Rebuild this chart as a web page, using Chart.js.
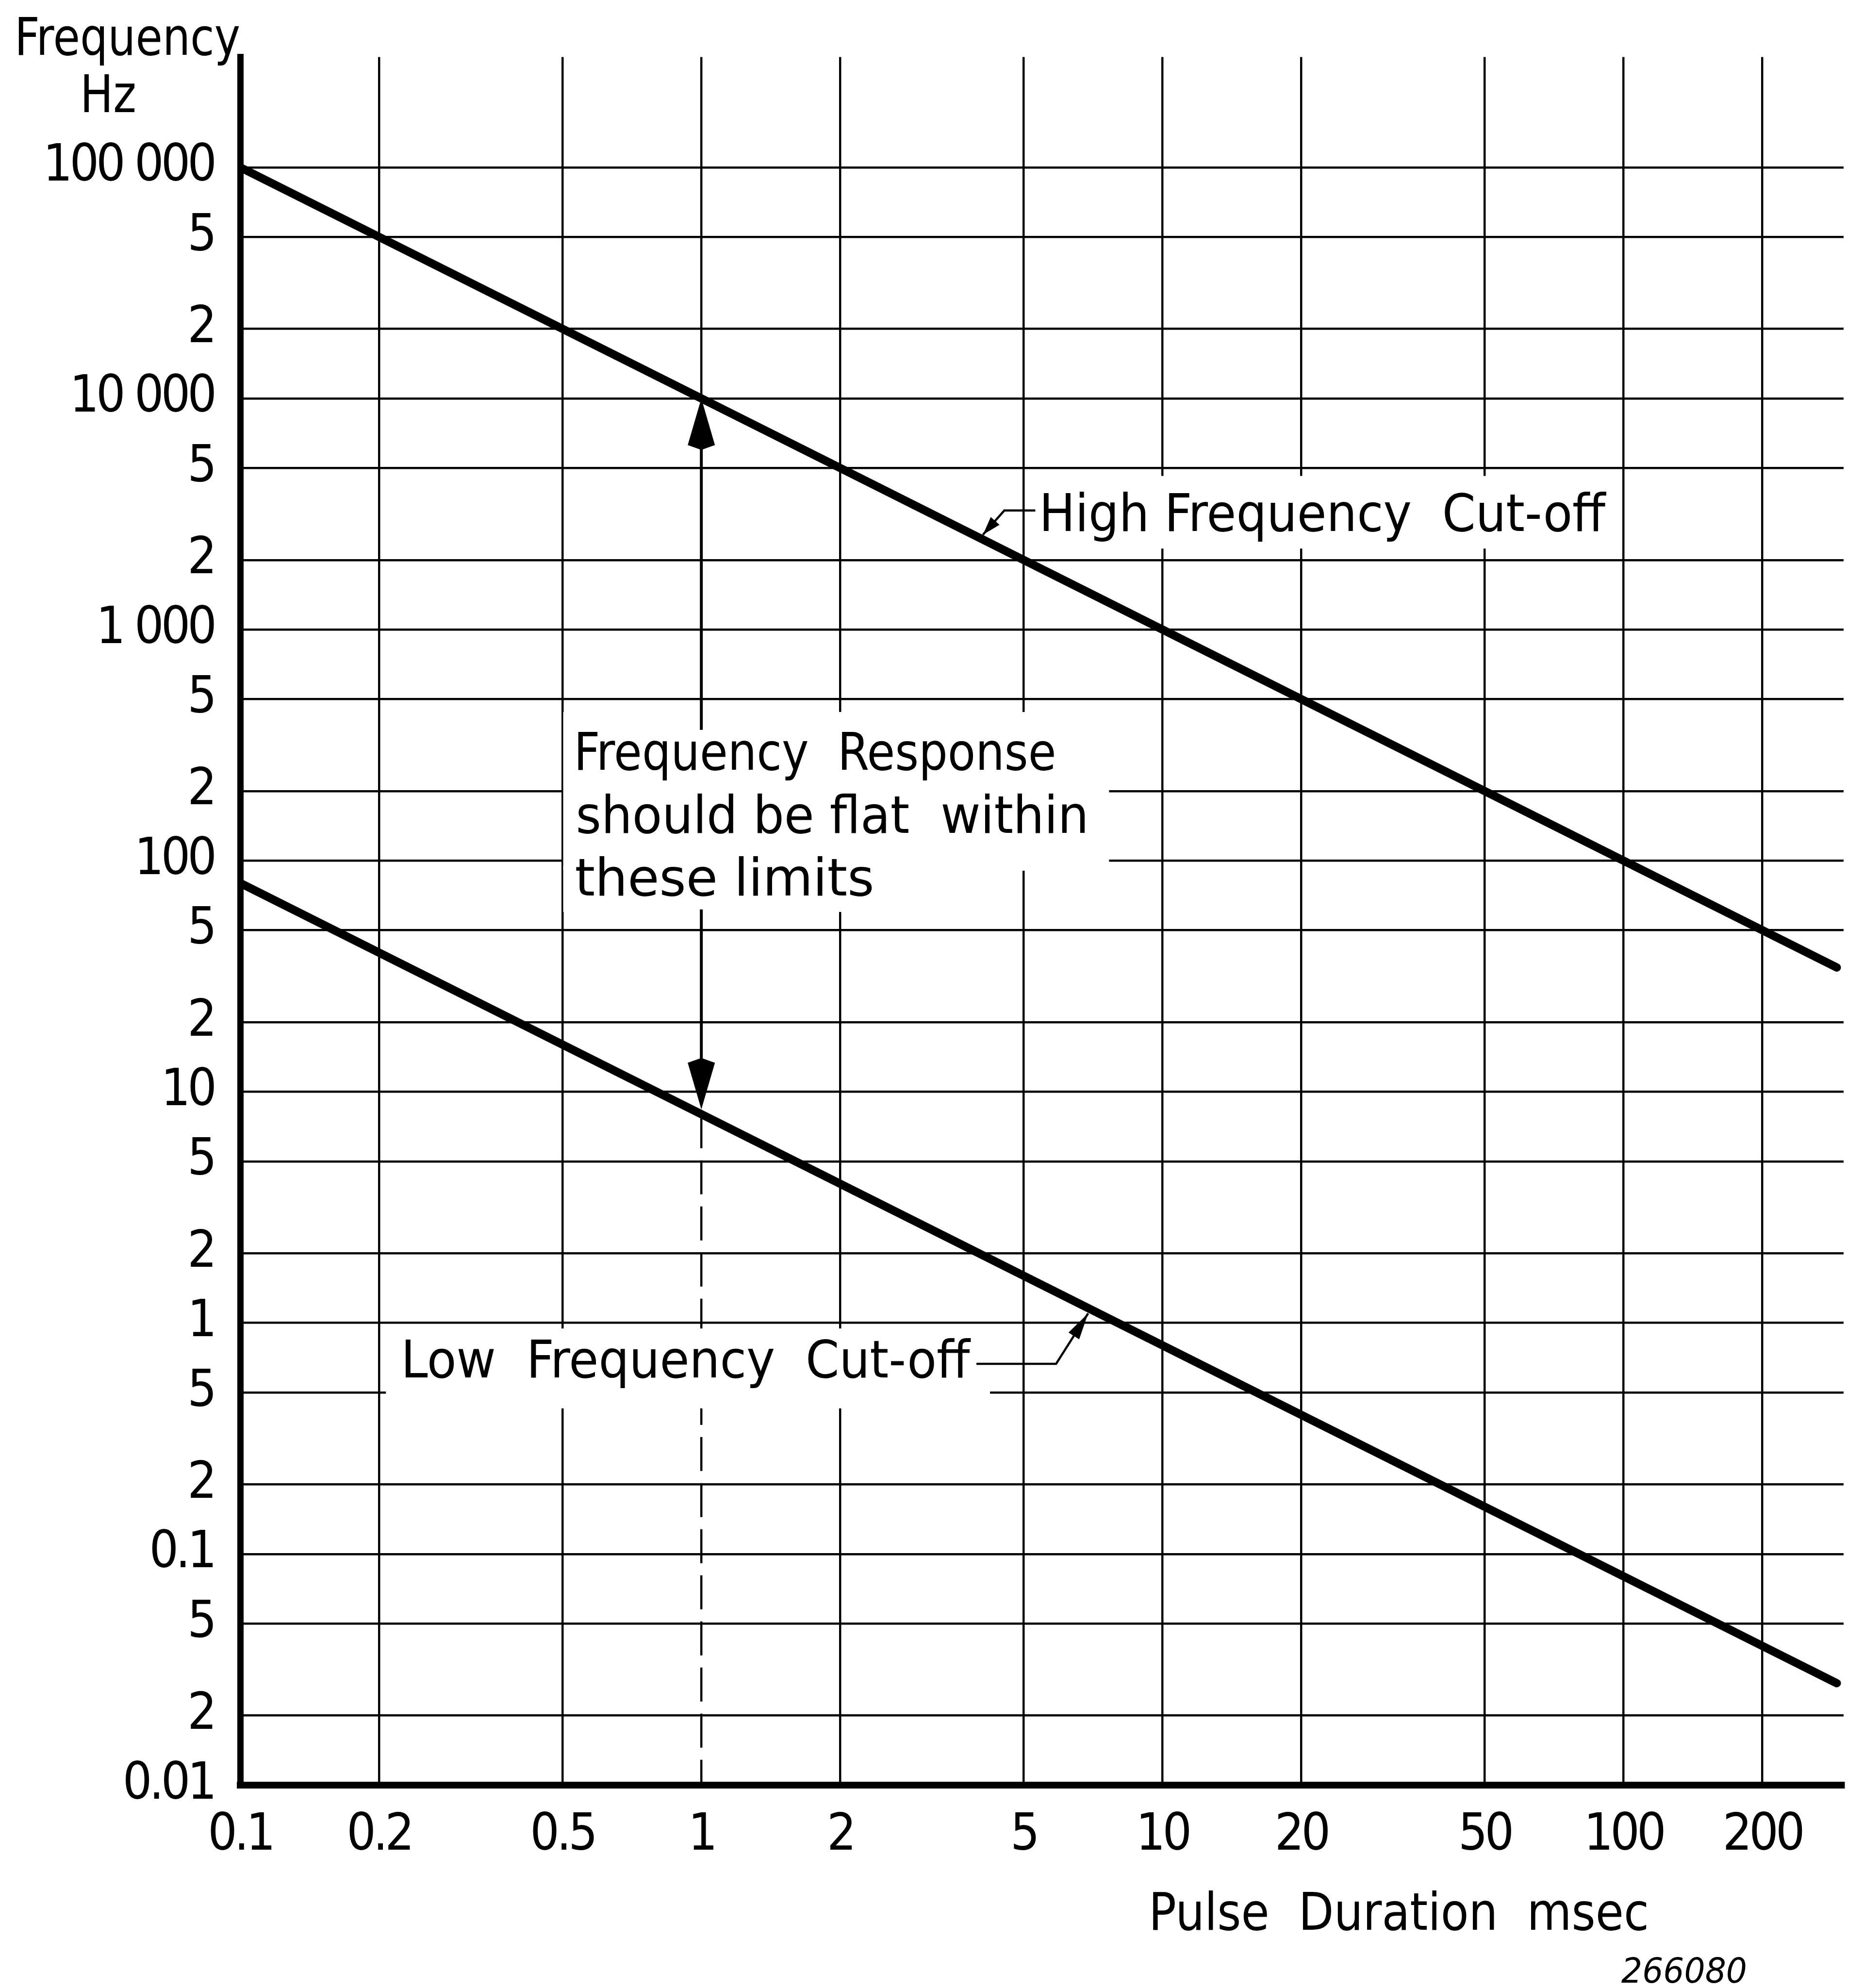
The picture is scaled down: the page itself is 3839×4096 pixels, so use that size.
<!DOCTYPE html>
<html><head><meta charset="utf-8">
<script src="https://cdn.jsdelivr.net/npm/chart.js@4.4.1/dist/chart.umd.min.js"></script>
<style>html,body{margin:0;padding:0;background:#fff;}canvas{display:block;}</style>
</head><body>
<canvas id="c" width="3839" height="4096"></canvas>
<script>
// ---- data ----
const xTickValues = [0.1, 0.2, 0.5, 1, 2, 5, 10, 20, 50, 100, 200];
const xTickLabels = ['0.1', '0.2', '0.5', '1', '2', '5', '10', '20', '50', '100', '200'];
const yTickValues = [0.01, 0.02, 0.05, 0.1, 0.2, 0.5, 1, 2, 5, 10, 20, 50, 100, 200, 500, 1000, 2000, 5000, 10000, 20000, 50000, 100000];
const yTickLabels = ['0.01', '2', '5', '0.1', '2', '5', '1', '2', '5', '10', '2', '5', '100', '2', '5', '1 000', '2', '5', '10 000', '2', '5', '100 000'];
const highT = [0.1, 1, 10, 100, 290];
const highF = [100000, 10000, 1000, 100, 34.5];
const lowT = [0.1, 1, 10, 100, 290];
const lowF = [80, 8, 0.8, 0.08, 0.0276];
const xRange = [0.1, 300];
const yRange = [0.01, 300000];

// ---- presentation ----
const FONT = "'DejaVu Sans Condensed', 'DejaVu Sans', sans-serif";
const TXT = 107;
// white gaps behind annotation text: [t0, t1, fTop, fBottom]
const gaps = [[0.5017, 7.66, 440, 90.5], [0.5017, 2.37, 95, 60], [5.134, 94, 4623, 2241], [0.207, 4.227, 0.946, 0.4267]];

function drawText(ctx, s, x, y, w, size, italic) {
  ctx.save();
  ctx.letterSpacing = '0px';
  ctx.font = (italic ? 'italic ' : '') + size + 'px ' + FONT;
  ctx.fillStyle = '#000';
  ctx.textBaseline = 'alphabetic';
  ctx.textAlign = 'left';
  const m = ctx.measureText(s).width;
  ctx.translate(x, y);
  ctx.scale(w / m, 1);
  ctx.fillText(s, 0, 0);
  ctx.restore();
}
function head(ctx, tx, ty, fx, fy, len, hw, notch) {
  const dx = tx - fx, dy = ty - fy, d = Math.hypot(dx, dy);
  const ux = dx / d, uy = dy / d, px = -uy, py = ux;
  const bx = tx - ux * len, by = ty - uy * len;
  ctx.beginPath();
  ctx.moveTo(tx, ty);
  ctx.lineTo(bx + px * hw, by + py * hw);
  ctx.lineTo(bx + ux * notch, by + uy * notch);
  ctx.lineTo(bx - px * hw, by - py * hw);
  ctx.closePath();
  ctx.fill();
}

const annot = {
  id: 'annot',
  beforeDraw(chart) {
    chart.ctx.letterSpacing = '-6px';
  },
  beforeDatasetsDraw(chart) {
    const {ctx, chartArea: a, scales: {x, y}} = chart;
    const X = v => x.getPixelForValue(v), Y = v => y.getPixelForValue(v);
    const x1 = X(1);
    ctx.save();
    ctx.strokeStyle = '#000';
    ctx.lineWidth = 4.5;
    ctx.beginPath(); ctx.moveTo(x1, a.top); ctx.lineTo(x1, Y(10000)); ctx.stroke();
    ctx.setLineDash([70, 25]);
    ctx.beginPath(); ctx.moveTo(x1, Y(8)); ctx.lineTo(x1, a.bottom); ctx.stroke();
    ctx.setLineDash([]);
    ctx.fillStyle = '#fff';
    for (const g of gaps) {
      const l = X(g[0]), r = X(g[1]), t = Y(g[2]), b = Y(g[3]);
      ctx.fillRect(l, t, r - l, b - t);
    }
    ctx.restore();
  },
  afterDraw(chart) {
    const {ctx, scales: {x, y}} = chart;
    const X = v => x.getPixelForValue(v), Y = v => y.getPixelForValue(v);
    ctx.save();
    ctx.fillStyle = '#000';
    ctx.strokeStyle = '#000';
    // main double arrow at 1 msec
    const x1 = X(1);
    const topTip = Y(highF[1]);
    const botTip = Y(lowF[1]) - 10;
    ctx.lineWidth = 6;
    ctx.beginPath(); ctx.moveTo(x1, topTip + 80); ctx.lineTo(x1, Y(368)); ctx.stroke();
    ctx.beginPath(); ctx.moveTo(x1, Y(61.5)); ctx.lineTo(x1, botTip - 80); ctx.stroke();
    head(ctx, x1, topTip, x1, topTip + 200, 96, 28, -10);
    head(ctx, x1, botTip, x1, botTip - 200, 96, 28, -10);
    // high cut-off leader
    ctx.lineWidth = 4.5;
    const hTipX = X(4.08), hTipY = Y(10000 / 4.08) - 10;
    const hk = [X(4.54), Y(3275)];
    ctx.beginPath(); ctx.moveTo(X(5.30), hk[1]); ctx.lineTo(hk[0], hk[1]); ctx.lineTo(hTipX, hTipY); ctx.stroke();
    head(ctx, hTipX, hTipY, hk[0], hk[1], 38, 12, 0);
    // low cut-off leader
    const lTipX = X(6.9), lTipY = Y(8 / 6.9) + 11;
    const lk = [X(5.88), Y(0.665)];
    ctx.beginPath(); ctx.moveTo(X(3.95), lk[1]); ctx.lineTo(lk[0], lk[1]); ctx.lineTo(lTipX, lTipY); ctx.stroke();
    head(ctx, lTipX, lTipY, lk[0], lk[1], 55, 13, 0);
    ctx.restore();

    // annotation texts
    const cx = X(0.529), cy = Y(247);
    drawText(ctx, 'Frequency  Response', cx, cy, 994, TXT);
    drawText(ctx, 'should be flat  within', cx + 4, cy + 129.5, 1057, TXT);
    drawText(ctx, 'these limits', cx + 2, cy + 259, 617, TXT);
    drawText(ctx, 'High Frequency  Cut-off', X(5.40), Y(2666), 1167, TXT);
    drawText(ctx, 'Low  Frequency  Cut-off', X(0.2232), Y(0.581), 1172, TXT);
    // axis titles
    drawText(ctx, 'Frequency', 30, 113, 465, TXT);
    drawText(ctx, 'Hz', 165, 231, 116, TXT);
    drawText(ctx, 'Pulse  Duration  msec', 2367, 3976, 1031, TXT);
    drawText(ctx, '266080', 3341, 4085, 259, 72, true);
  }
};

const tickFont = {family: FONT, size: 106};
new Chart(document.getElementById('c'), {
  type: 'line',
  data: {
    datasets: [
      {label: 'High Frequency Cut-off', data: highT.map((t, i) => ({x: t, y: highF[i]}))},
      {label: 'Low Frequency Cut-off', data: lowT.map((t, i) => ({x: t, y: lowF[i]}))}
    ]
  },
  options: {
    responsive: false,
    animation: false,
    devicePixelRatio: 1,
    events: [],
    layout: {padding: {top: 110, right: 40, left: 0, bottom: 0}},
    elements: {
      line: {borderColor: '#000', borderWidth: 17, borderCapStyle: 'round', tension: 0, fill: false},
      point: {radius: 0}
    },
    plugins: {legend: {display: false}, tooltip: {enabled: false}, title: {display: false}},
    scales: {
      x: {
        type: 'logarithmic', min: xRange[0], max: xRange[1],
        afterBuildTicks: s => { s.ticks = xTickValues.map(v => ({value: v})); },
        afterFit: s => { s.height = 418; },
        grid: {color: c => (c.tick && c.tick.value === 1) ? 'rgba(0,0,0,0)' : '#000', lineWidth: 4.5, drawTicks: false},
        border: {display: true, color: '#000', width: 14},
        ticks: {autoSkip: false, maxRotation: 0, minRotation: 0, padding: 42, color: '#000', font: tickFont,
          callback: (v, i) => xTickLabels[i]}
      },
      y: {
        type: 'logarithmic', min: yRange[0], max: yRange[1],
        afterBuildTicks: s => { s.ticks = yTickValues.map(v => ({value: v})); },
        afterFit: s => { s.width = 495; },
        grid: {color: '#000', lineWidth: 4.5, drawTicks: false},
        border: {display: true, color: '#000', width: 13},
        ticks: {autoSkip: false, padding: 54, color: '#000', font: tickFont,
          callback: (v, i) => yTickLabels[i]}
      }
    }
  },
  plugins: [annot]
});
</script>
</body></html>
